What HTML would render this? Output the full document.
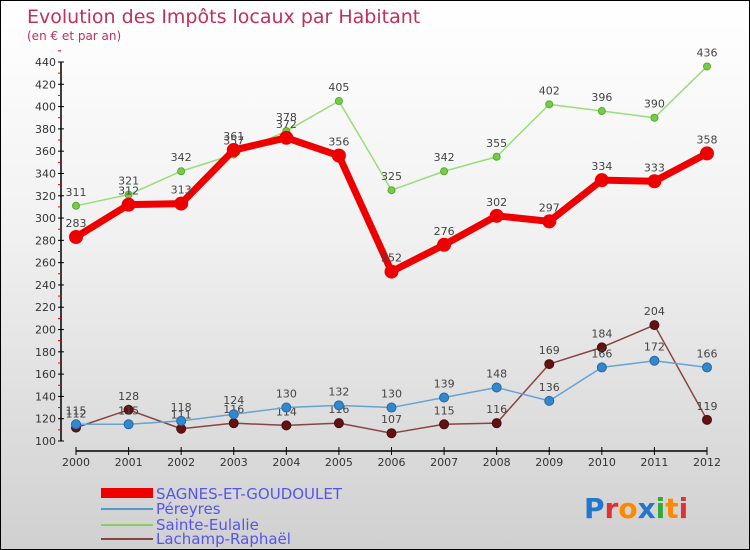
<!DOCTYPE html>
<html><head><meta charset="utf-8"><style>
body{margin:0;}
#wrap{position:relative;width:750px;height:550px;box-sizing:border-box;border:1px solid #000;background:linear-gradient(#fff 0%,#f2f2f2 40%,#d0d0d0 100%);font-family:"DejaVu Sans","Liberation Sans",sans-serif;overflow:hidden}
text{font-family:"DejaVu Sans","Liberation Sans",sans-serif}
</style></head><body>
<div id="wrap">
<svg id="svg" width="750" height="550" style="position:absolute;left:0;top:0">
<text x="26" y="22" font-size="19" fill="#c0305a">Evolution des Impôts locaux par Habitant</text>
<text x="26" y="39" font-size="12" fill="#c0305a">(en € et par an)</text>
<g id="axes"></g><g id="series"></g>
<g>
<rect x="100" y="487" width="52" height="10" fill="#ee0000"/>
<text x="155" y="498" font-size="15" fill="#5555ee">SAGNES-ET-GOUDOULET</text>
<rect x="100" y="507" width="52" height="2" fill="#5599cc"/>
<text x="155" y="513" font-size="15" fill="#5555ee">Péreyres</text>
<rect x="100" y="523" width="52" height="2" fill="#88cc66"/>
<text x="155" y="529" font-size="15" fill="#5555ee">Sainte-Eulalie</text>
<rect x="100" y="537" width="52" height="2" fill="#884444"/>
<text x="155" y="543" font-size="15" fill="#5555ee">Lachamp-Raphaël</text>
</g>
<text x="583" y="517" font-size="28" font-weight="bold"><tspan fill="#2277cc">P</tspan><tspan fill="#dd3333">r</tspan><tspan fill="#ff8800">o</tspan><tspan fill="#2277cc">x</tspan><tspan fill="#33aa33">i</tspan><tspan fill="#ff8800">t</tspan><tspan fill="#dd3333">i</tspan></text>
</svg>
</div>
<script>
const years=["2000","2001","2002","2003","2004","2005","2006","2007","2008","2009","2010","2011","2012"];
const yTicks=[100,120,140,160,180,200,220,240,260,280,300,320,340,360,380,400,420,440];
const sagnes=[283,312,313,361,372,356,252,276,302,297,334,333,358];
const pereyres=[115,115,118,124,130,132,130,139,148,136,166,172,166];
const eulalie=[311,321,342,357,378,405,325,342,355,402,396,390,436];
const lachamp=[112,128,111,116,114,116,107,115,116,169,184,204,119];
const NS="http://www.w3.org/2000/svg";
function X(i){return 75+i*(706-75)/(years.length-1);}
function Y(v){return 440-(v-100)*(440-61)/340;}
function mk(t,a,p){const e=document.createElementNS(NS,t);for(const k in a)e.setAttribute(k,a[k]);p.appendChild(e);return e;}
const ax=document.getElementById('axes');
const ya=mk('line',{x1:60,y1:Y(440),x2:60,y2:Y(100),stroke:'#000','stroke-width':1.5},ax);


yTicks.forEach(v=>{
 mk('line',{x1:57,y1:Y(v),x2:63,y2:Y(v),stroke:'#000'},ax);
 mk('line',{x1:57,y1:Y(v+10),x2:60,y2:Y(v+10),stroke:'#e00'},ax);
 const t=mk('text',{x:55,y:Y(v)+4,'font-size':11,fill:'#333','text-anchor':'end'},ax);t.textContent=v;
 
 
});
const xa=mk('line',{x1:X(0),y1:450,x2:X(12),y2:450,stroke:'#000','stroke-width':1.5},ax);


years.forEach((y,i)=>{
 mk('line',{x1:X(i),y1:446,x2:X(i),y2:454,stroke:'#000'},ax);
 const t=mk('text',{x:X(i),y:465,'font-size':11,fill:'#333','text-anchor':'middle'},ax);t.textContent=y;
 
 
});
const sg=document.getElementById('series');
function draw(name,data,color,w,r,dot,stroke){
 const g=mk('g',{},sg);
 
 
 mk('polyline',{points:data.map((v,i)=>X(i)+','+Y(v)).join(' '),fill:'none',stroke:color,'stroke-width':w,'stroke-linejoin':'round'},g);
 data.forEach((v,i)=>{
  const c=mk('circle',{cx:X(i),cy:Y(v),r:r,fill:dot,stroke:stroke,'stroke-width':1},g);
  
  
  const t=mk('text',{x:X(i),y:Y(v)-10,'font-size':11,fill:'#444','text-anchor':'middle'},g);t.textContent=v;
  
  
 });
}
draw('lachamp',lachamp,'#884444',1.5,4.5,'#661111','#441111');
draw('pereyres',pereyres,'#66a3d2',1.5,4.5,'#3388cc','#2266aa');
draw('sainte-eulalie',eulalie,'#99dd77',1.5,3.5,'#77cc44','#55aa33');
draw('sagnes',sagnes,'#ee0000',7,6.5,'#ee0000','#ee0000');
</script>
</body></html>
